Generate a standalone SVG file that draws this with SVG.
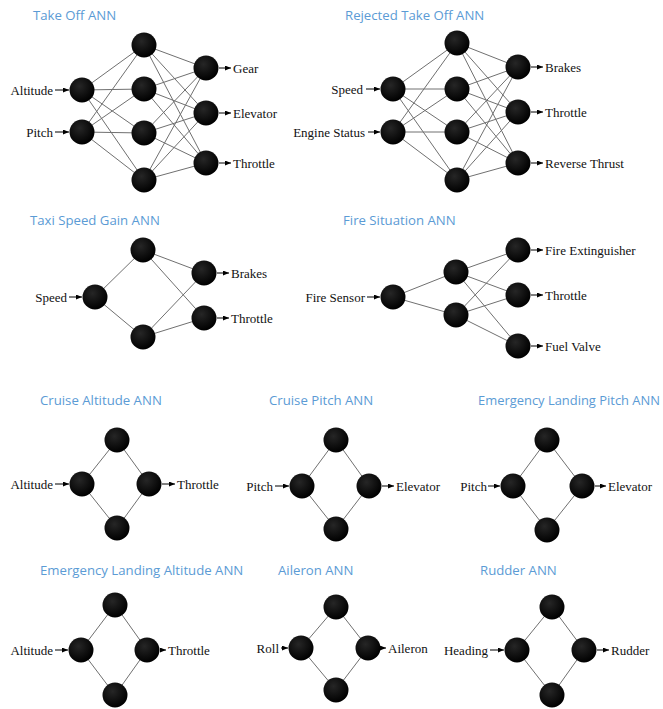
<svg xmlns="http://www.w3.org/2000/svg" width="663" height="709" viewBox="0 0 663 709">
<defs>
<radialGradient id="ball" cx="40%" cy="35%" r="65%">
<stop offset="0" stop-color="#262626"/>
<stop offset="1" stop-color="#000"/>
</radialGradient>
<marker id="ah" markerUnits="userSpaceOnUse" markerWidth="6" markerHeight="5" refX="6" refY="2.5" orient="auto">
<path d="M0,0 L6,2.5 L0,5 z" fill="#000"/>
</marker>
</defs>
<style>
.t{font-family:"Open Sans","Liberation Sans",sans-serif;font-size:13.2px;fill:#5b9bd5}
.l{font-family:"Liberation Serif","Times New Roman",serif;font-size:13px;fill:#111}
.e{stroke:#707070;stroke-width:1;fill:none}
.a{stroke:#000;stroke-width:1;fill:none;marker-end:url(#ah)}
circle{fill:url(#ball)}
</style>
<rect width="663" height="709" fill="#fff"/>

<!-- titles -->
<g id="titles">
<text class="t" x="33" y="20">Take Off ANN</text>
<text class="t" x="345" y="20">Rejected Take Off ANN</text>
<text class="t" x="30" y="225">Taxi Speed Gain ANN</text>
<text class="t" x="343" y="225">Fire Situation ANN</text>
<text class="t" x="40" y="405">Cruise Altitude ANN</text>
<text class="t" x="269" y="405">Cruise Pitch ANN</text>
<text class="t" x="478" y="405" textLength="182" lengthAdjust="spacingAndGlyphs">Emergency Landing Pitch ANN</text>
<text class="t" x="40" y="575">Emergency Landing Altitude ANN</text>
<text class="t" x="278" y="575">Aileron ANN</text>
<text class="t" x="480" y="575">Rudder ANN</text>
</g>

<g id="connectors">
<g class="e">
<!-- Take Off -->
<path d="M82,90L144,45M82,90L144,89M82,90L144,133M82,90L144,180M82,132L144,45M82,132L144,89M82,132L144,133M82,132L144,180"/>
<path d="M144,45L206,68M144,45L206,113M144,45L206,163M144,89L206,68M144,89L206,113M144,89L206,163M144,133L206,68M144,133L206,113M144,133L206,163M144,180L206,68M144,180L206,113M144,180L206,163"/>
<!-- Rejected -->
<path d="M393,89L457,43M393,89L457,89M393,89L457,132M393,89L457,180M393,132L457,43M393,132L457,89M393,132L457,132M393,132L457,180"/>
<path d="M457,43L518,67M457,43L518,112M457,43L518,163M457,89L518,67M457,89L518,112M457,89L518,163M457,132L518,67M457,132L518,112M457,132L518,163M457,180L518,67M457,180L518,112M457,180L518,163"/>
<!-- Taxi -->
<path d="M95,297L143,250M95,297L143,337M143,250L204,273M143,250L204,318M143,337L204,273M143,337L204,318"/>
<!-- Fire -->
<path d="M393,297L456,272M393,297L456,315M456,272L518,250M456,272L518,295M456,272L518,346M456,315L518,250M456,315L518,295M456,315L518,346"/>
<!-- diamonds -->
<path d="M82,484L117,440L149,484L117,528Z"/>
<path d="M302,486L336,440L369,486L336,529Z"/>
<path d="M513,486L547,440L582,486L547,530Z"/>
<path d="M81,650L115,605L147,650L115,695Z"/>
<path d="M301,648L336,607L368,648L336,690Z"/>
<path d="M517,650L552,607L584,650L552,695Z"/>
</g>
<!-- arrows -->
<g>
<line class="a" x1="55" y1="90" x2="69" y2="90"/>
<line class="a" x1="55" y1="132" x2="69" y2="132"/>
<line class="a" x1="219" y1="68" x2="231" y2="68"/>
<line class="a" x1="219" y1="113" x2="231" y2="113"/>
<line class="a" x1="219" y1="163" x2="231" y2="163"/>
<line class="a" x1="366" y1="89" x2="380" y2="89"/>
<line class="a" x1="368" y1="132" x2="380" y2="132"/>
<line class="a" x1="531" y1="67" x2="543" y2="67"/>
<line class="a" x1="531" y1="112" x2="543" y2="112"/>
<line class="a" x1="531" y1="163" x2="543" y2="163"/>
<line class="a" x1="69" y1="297" x2="82" y2="297"/>
<line class="a" x1="217" y1="273" x2="229" y2="273"/>
<line class="a" x1="217" y1="318" x2="229" y2="318"/>
<line class="a" x1="367" y1="297" x2="380" y2="297"/>
<line class="a" x1="531" y1="250" x2="543" y2="250"/>
<line class="a" x1="531" y1="295" x2="543" y2="295"/>
<line class="a" x1="531" y1="346" x2="543" y2="346"/>
<line class="a" x1="55" y1="484" x2="69" y2="484"/>
<line class="a" x1="162" y1="484" x2="175" y2="484"/>
<line class="a" x1="275" y1="486" x2="289" y2="486"/>
<line class="a" x1="382" y1="486" x2="394" y2="486"/>
<line class="a" x1="488" y1="486" x2="500" y2="486"/>
<line class="a" x1="595" y1="486" x2="606" y2="486"/>
<line class="a" x1="55" y1="650" x2="68" y2="650"/>
<line class="a" x1="160" y1="650" x2="166" y2="650"/>
<line class="a" x1="281" y1="648" x2="288" y2="648"/>
<line class="a" x1="381" y1="648" x2="386" y2="648"/>
<line class="a" x1="490" y1="650" x2="504" y2="650"/>
<line class="a" x1="597" y1="650" x2="609" y2="650"/>
</g>
</g>

<!-- Take Off ANN -->
<g id="takeoff">
<g id="to-in1"><circle cx="82" cy="90" r="12.5"/><text class="l" x="53" y="94.5" text-anchor="end">Altitude</text></g>
<g id="to-in2"><circle cx="82" cy="132" r="12.5"/><text class="l" x="53" y="136.5" text-anchor="end">Pitch</text></g>
<g id="to-h1"><circle cx="144" cy="45" r="12.5"/></g>
<g id="to-h2"><circle cx="144" cy="89" r="12.5"/></g>
<g id="to-h3"><circle cx="144" cy="133" r="12.5"/></g>
<g id="to-h4"><circle cx="144" cy="180" r="12.5"/></g>
<g id="to-o1"><circle cx="206" cy="68" r="12.5"/><text class="l" x="233" y="72.5">Gear</text></g>
<g id="to-o2"><circle cx="206" cy="113" r="12.5"/><text class="l" x="233" y="117.5">Elevator</text></g>
<g id="to-o3"><circle cx="206" cy="163" r="12.5"/><text class="l" x="233" y="167.5">Throttle</text></g>
</g>

<!-- Rejected Take Off ANN -->
<g id="rejected">
<g id="rt-in1"><circle cx="393" cy="89" r="12.5"/><text class="l" x="363" y="93.5" text-anchor="end">Speed</text></g>
<g id="rt-in2"><circle cx="393" cy="132" r="12.5"/><text class="l" x="365" y="136.5" text-anchor="end">Engine Status</text></g>
<g id="rt-h1"><circle cx="457" cy="43" r="12.5"/></g>
<g id="rt-h2"><circle cx="457" cy="89" r="12.5"/></g>
<g id="rt-h3"><circle cx="457" cy="132" r="12.5"/></g>
<g id="rt-h4"><circle cx="457" cy="180" r="12.5"/></g>
<g id="rt-o1"><circle cx="518" cy="67" r="12.5"/><text class="l" x="545" y="71.5">Brakes</text></g>
<g id="rt-o2"><circle cx="518" cy="112" r="12.5"/><text class="l" x="545" y="116.5">Throttle</text></g>
<g id="rt-o3"><circle cx="518" cy="163" r="12.5"/><text class="l" x="545" y="167.5">Reverse Thrust</text></g>
</g>

<!-- Taxi Speed Gain ANN -->
<g id="taxi">
<g id="tx-in"><circle cx="95" cy="297" r="12.5"/><text class="l" x="67" y="301.5" text-anchor="end">Speed</text></g>
<g id="tx-h1"><circle cx="143" cy="250" r="12.5"/></g>
<g id="tx-h2"><circle cx="143" cy="337" r="12.5"/></g>
<g id="tx-o1"><circle cx="204" cy="273" r="12.5"/><text class="l" x="231" y="277.5">Brakes</text></g>
<g id="tx-o2"><circle cx="204" cy="318" r="12.5"/><text class="l" x="231" y="322.5">Throttle</text></g>
</g>

<!-- Fire Situation ANN -->
<g id="fire">
<g id="fs-in"><circle cx="393" cy="297" r="12.5"/><text class="l" x="365" y="301.5" text-anchor="end">Fire Sensor</text></g>
<g id="fs-h1"><circle cx="456" cy="272" r="12.5"/></g>
<g id="fs-h2"><circle cx="456" cy="315" r="12.5"/></g>
<g id="fs-o1"><circle cx="518" cy="250" r="12.5"/><text class="l" x="545" y="254.5">Fire Extinguisher</text></g>
<g id="fs-o2"><circle cx="518" cy="295" r="12.5"/><text class="l" x="545" y="299.5">Throttle</text></g>
<g id="fs-o3"><circle cx="518" cy="346" r="12.5"/><text class="l" x="545" y="350.5">Fuel Valve</text></g>
</g>

<!-- Cruise Altitude ANN -->
<g id="cruise-alt">
<g id="ca-in"><circle cx="82" cy="484" r="12.5"/><text class="l" x="53" y="488.5" text-anchor="end">Altitude</text></g>
<g id="ca-h1"><circle cx="117" cy="440" r="12.5"/></g>
<g id="ca-h2"><circle cx="117" cy="528" r="12.5"/></g>
<g id="ca-out"><circle cx="149" cy="484" r="12.5"/><text class="l" x="177" y="488.5">Throttle</text></g>
</g>

<!-- Cruise Pitch ANN -->
<g id="cruise-pitch">
<g id="cp-in"><circle cx="302" cy="486" r="12.5"/><text class="l" x="273" y="490.5" text-anchor="end">Pitch</text></g>
<g id="cp-h1"><circle cx="336" cy="440" r="12.5"/></g>
<g id="cp-h2"><circle cx="336" cy="529" r="12.5"/></g>
<g id="cp-out"><circle cx="369" cy="486" r="12.5"/><text class="l" x="396" y="490.5">Elevator</text></g>
</g>

<!-- Emergency Landing Pitch ANN -->
<g id="em-pitch">
<g id="ep-in"><circle cx="513" cy="486" r="12.5"/><text class="l" x="487" y="490.5" text-anchor="end">Pitch</text></g>
<g id="ep-h1"><circle cx="547" cy="440" r="12.5"/></g>
<g id="ep-h2"><circle cx="547" cy="530" r="12.5"/></g>
<g id="ep-out"><circle cx="582" cy="486" r="12.5"/><text class="l" x="608" y="490.5">Elevator</text></g>
</g>

<!-- Emergency Landing Altitude ANN -->
<g id="em-alt">
<g id="ea-in"><circle cx="81" cy="650" r="12.5"/><text class="l" x="53" y="654.5" text-anchor="end">Altitude</text></g>
<g id="ea-h1"><circle cx="115" cy="605" r="12.5"/></g>
<g id="ea-h2"><circle cx="115" cy="695" r="12.5"/></g>
<g id="ea-out"><circle cx="147" cy="650" r="12.5"/><text class="l" x="168" y="654.5">Throttle</text></g>
</g>

<!-- Aileron ANN -->
<g id="aileron">
<g id="ai-in"><circle cx="301" cy="648" r="12.5"/><text class="l" x="279" y="652.5" text-anchor="end">Roll</text></g>
<g id="ai-h1"><circle cx="336" cy="607" r="12.5"/></g>
<g id="ai-h2"><circle cx="336" cy="690" r="12.5"/></g>
<g id="ai-out"><circle cx="368" cy="648" r="12.5"/><text class="l" x="388" y="652.5">Aileron</text></g>
</g>

<!-- Rudder ANN -->
<g id="rudder">
<g id="ru-in"><circle cx="517" cy="650" r="12.5"/><text class="l" x="488" y="654.5" text-anchor="end">Heading</text></g>
<g id="ru-h1"><circle cx="552" cy="607" r="12.5"/></g>
<g id="ru-h2"><circle cx="552" cy="695" r="12.5"/></g>
<g id="ru-out"><circle cx="584" cy="650" r="12.5"/><text class="l" x="611" y="654.5">Rudder</text></g>
</g>
</svg>
